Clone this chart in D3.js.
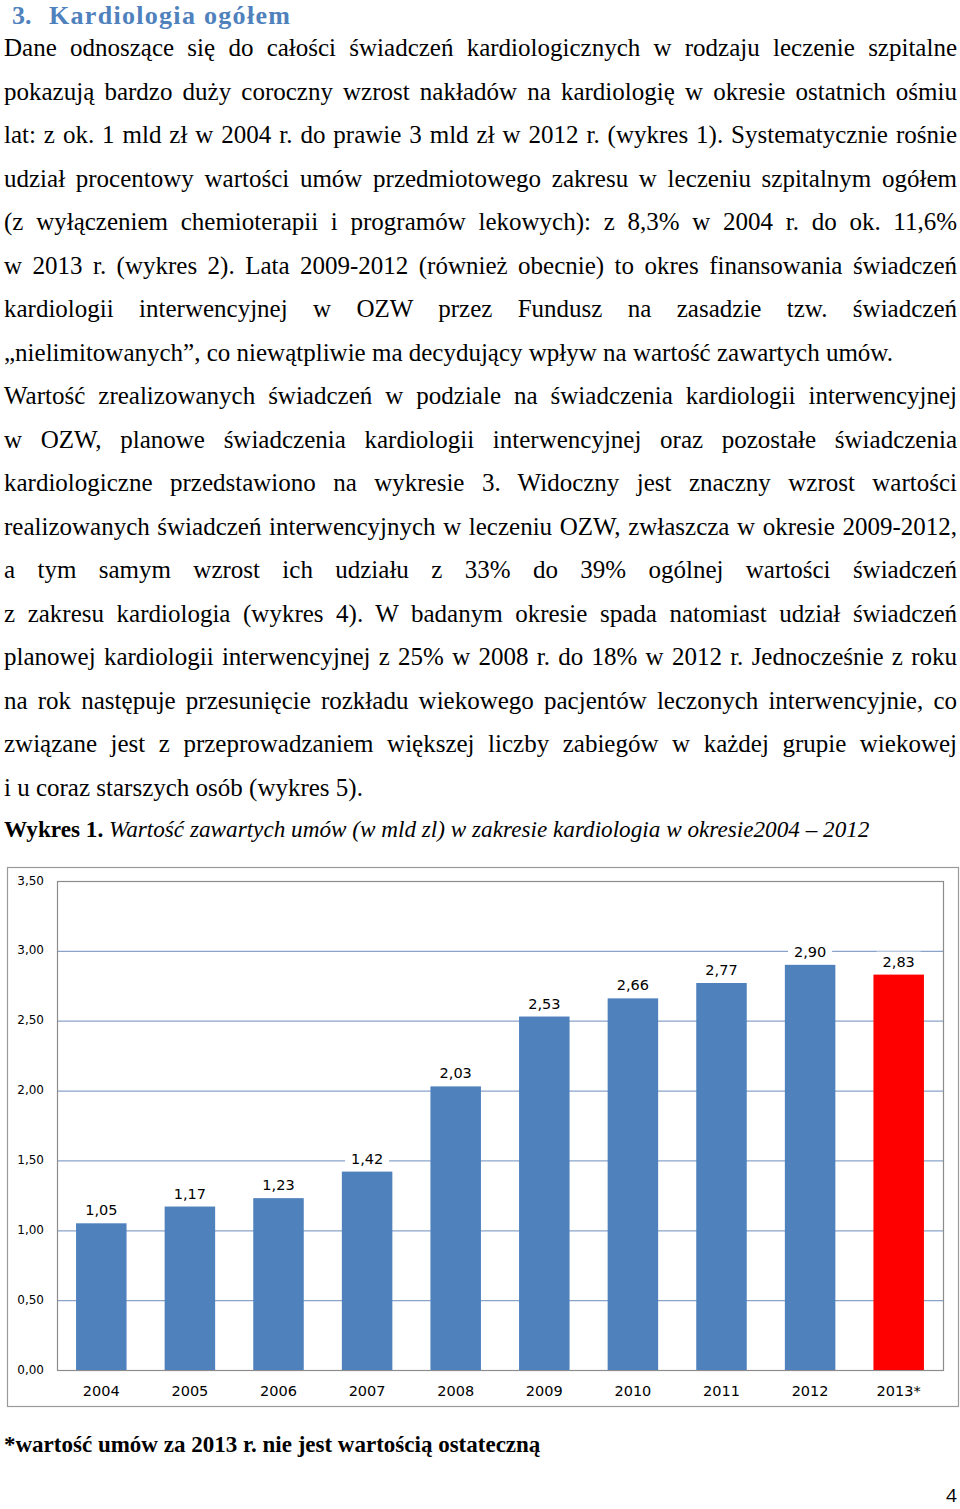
<!DOCTYPE html>
<html lang="pl">
<head>
<meta charset="utf-8">
<script src="https://cdn.jsdelivr.net/npm/d3@7"></script>
<style>
  html, body { margin: 0; padding: 0; background: #fff; }
  #page { position: relative; width: 960px; height: 1509px; overflow: hidden; }
  #page svg { position: absolute; left: 0; top: 0; }
  .ln { position: absolute; left: 4px; width: 953px; font-family: "Liberation Serif", serif; font-size: 25px; line-height: 30px; white-space: nowrap; color: #000; }
  .j { text-align: justify; text-align-last: justify; white-space: normal; }
  .cap { position: absolute; left: 4px; font-family: "Liberation Serif", serif; font-size: 23.2px; line-height: 28px; white-space: nowrap; }
  .foot { position: absolute; left: 4px; font-family: "Liberation Serif", serif; font-weight: bold; font-size: 23px; line-height: 28px; white-space: nowrap; }
</style>
</head>
<body>
<div id="page"></div>
<script>
// Treść strony
const textLines = [
  "Dane odnoszące się do całości świadczeń kardiologicznych w rodzaju leczenie szpitalne",
  "pokazują bardzo duży coroczny wzrost nakładów na kardiologię w okresie ostatnich ośmiu",
  "lat: z ok. 1 mld zł w 2004 r. do prawie 3 mld zł w 2012 r. (wykres 1). Systematycznie rośnie",
  "udział procentowy wartości umów przedmiotowego zakresu w leczeniu szpitalnym ogółem",
  "(z wyłączeniem chemioterapii i programów lekowych): z 8,3% w 2004 r. do ok. 11,6%",
  "w 2013 r. (wykres 2). Lata 2009-2012 (również obecnie) to okres finansowania świadczeń",
  "kardiologii interwencyjnej w OZW przez Fundusz na zasadzie tzw. świadczeń",
  "„nielimitowanych”, co niewątpliwie ma decydujący wpływ na wartość zawartych umów.",
  "Wartość zrealizowanych świadczeń w podziale na świadczenia kardiologii interwencyjnej",
  "w OZW, planowe świadczenia kardiologii interwencyjnej oraz pozostałe świadczenia",
  "kardiologiczne przedstawiono na wykresie 3. Widoczny jest znaczny wzrost wartości",
  "realizowanych świadczeń interwencyjnych w leczeniu OZW, zwłaszcza w okresie 2009-2012,",
  "a tym samym wzrost ich udziału z 33% do 39% ogólnej wartości świadczeń",
  "z zakresu kardiologia (wykres 4). W badanym okresie spada natomiast udział świadczeń",
  "planowej kardiologii interwencyjnej z 25% w 2008 r. do 18% w 2012 r.  Jednocześnie z roku",
  "na rok następuje przesunięcie rozkładu wiekowego pacjentów leczonych interwencyjnie, co",
  "związane jest z przeprowadzaniem większej liczby zabiegów w każdej grupie wiekowej",
  "i u coraz starszych osób (wykres 5)."
];
// linie niewyjustowane (koniec akapitu)
const leftLines = [7, 17];

// Dane wykresu
const years = ["2004", "2005", "2006", "2007", "2008", "2009", "2010", "2011", "2012", "2013*"];
const values = [1.05, 1.17, 1.23, 1.42, 2.03, 2.53, 2.66, 2.77, 2.90, 2.83];
const yTicks = [0, 0.5, 1, 1.5, 2, 2.5, 3, 3.5];

const page = d3.select("#page");

const svg = page.append("svg")
  .attr("width", 960)
  .attr("height", 1509);

// Nagłówek
const head = svg.append("text")
  .attr("y", 23.5)
  .attr("font-family", "Liberation Serif, serif")
  .attr("font-weight", "bold")
  .attr("font-size", "26px")
  .attr("fill", "#4F81BD");
head.append("tspan").attr("x", 12).text("3.");
head.append("tspan").attr("x", 49).attr("letter-spacing", "1.3px").text("Kardiologia ogółem");

// Tekst akapitów, linia po linii
page.selectAll(".ln")
  .data(textLines)
  .enter()
  .append("div")
  .attr("class", (d, i) => leftLines.includes(i) ? "ln" : "ln j")
  .style("top", (d, i) => (33 + i * 43.5) + "px")
  .text(d => d);

// Podpis wykresu
const cap = page.append("div").attr("class", "cap").style("top", "815px");
cap.append("b").text("Wykres 1. ");
cap.append("i").text("Wartość zawartych umów (w mld zl) w zakresie kardiologia w okresie2004 – 2012");

// Przypis
page.append("div").attr("class", "foot").style("top", "1431px")
  .text("*wartość umów za 2013 r. nie jest wartością ostateczną");

// Numer strony
svg.append("text")
  .attr("x", 946)
  .attr("y", 1502)
  .attr("font-family", "Open Sans, sans-serif")
  .attr("font-size", "19px")
  .attr("fill", "#000")
  .text("4");

// Wykres
const plot = { left: 57, right: 943, top: 881, bottom: 1370 };
const fmt = v => d3.format(".2f")(v).replace(".", ",");

// ramka wykresu
svg.append("rect")
  .attr("x", 7.5).attr("y", 867.5)
  .attr("width", 951).attr("height", 539)
  .attr("fill", "#fff")
  .attr("stroke", "#9a9a9a")
  .attr("stroke-width", 1.2);

const x = d3.scaleBand()
  .domain(years)
  .range([plot.left, plot.right])
  .paddingInner(0.43)
  .paddingOuter(0.215);

const y = d3.scaleLinear()
  .domain([0, 3.5])
  .range([plot.bottom, plot.top]);

// linie siatki
svg.selectAll(".grid")
  .data(yTicks.filter(t => t > 0 && t < 3.5))
  .enter()
  .append("line")
  .attr("x1", plot.left).attr("x2", plot.right)
  .attr("y1", d => y(d) + 0.5).attr("y2", d => y(d) + 0.5)
  .attr("stroke", "#8AA4C9")
  .attr("stroke-width", 1.2);

// obramowanie obszaru wykresu
svg.append("rect")
  .attr("x", plot.left + 0.5).attr("y", plot.top + 0.5)
  .attr("width", plot.right - plot.left).attr("height", plot.bottom - plot.top)
  .attr("fill", "none")
  .attr("stroke", "#8c8c8c")
  .attr("stroke-width", 1.2);

// etykiety osi Y
svg.selectAll(".ylab")
  .data(yTicks)
  .enter()
  .append("text")
  .attr("x", 44)
  .attr("y", d => y(d))
  .attr("text-anchor", "end")
  .attr("dominant-baseline", "middle")
  .attr("font-family", "DejaVu Sans, Verdana, sans-serif")
  .attr("font-size", "12px")
  .attr("fill", "#000")
  .text(d => fmt(d));

// słupki
svg.selectAll(".bar")
  .data(values)
  .enter()
  .append("rect")
  .attr("x", (d, i) => x(years[i]))
  .attr("y", d => y(d))
  .attr("width", x.bandwidth())
  .attr("height", d => plot.bottom - y(d))
  .attr("fill", (d, i) => i === values.length - 1 ? "#FF0000" : "#4F81BD");

// etykiety wartości (z białym tłem, przerywają siatkę)
const vl = svg.selectAll(".vlab")
  .data(values)
  .enter()
  .append("g")
  .attr("transform", (d, i) => `translate(${x(years[i]) + x.bandwidth() / 2},${y(d) - 8})`);

vl.append("rect")
  .attr("x", -22).attr("y", -15)
  .attr("width", 44).attr("height", 19)
  .attr("fill", "#fff");

vl.append("text")
  .attr("text-anchor", "middle")
  .attr("font-family", "DejaVu Sans, Verdana, sans-serif")
  .attr("font-size", "14.5px")
  .attr("fill", "#000")
  .text(d => fmt(d));

// etykiety osi X
svg.selectAll(".xlab")
  .data(years)
  .enter()
  .append("text")
  .attr("x", d => x(d) + x.bandwidth() / 2)
  .attr("y", 1396)
  .attr("text-anchor", "middle")
  .attr("font-family", "DejaVu Sans, Verdana, sans-serif")
  .attr("font-size", "14.5px")
  .attr("fill", "#000")
  .text(d => d);
</script>
</body>
</html>
